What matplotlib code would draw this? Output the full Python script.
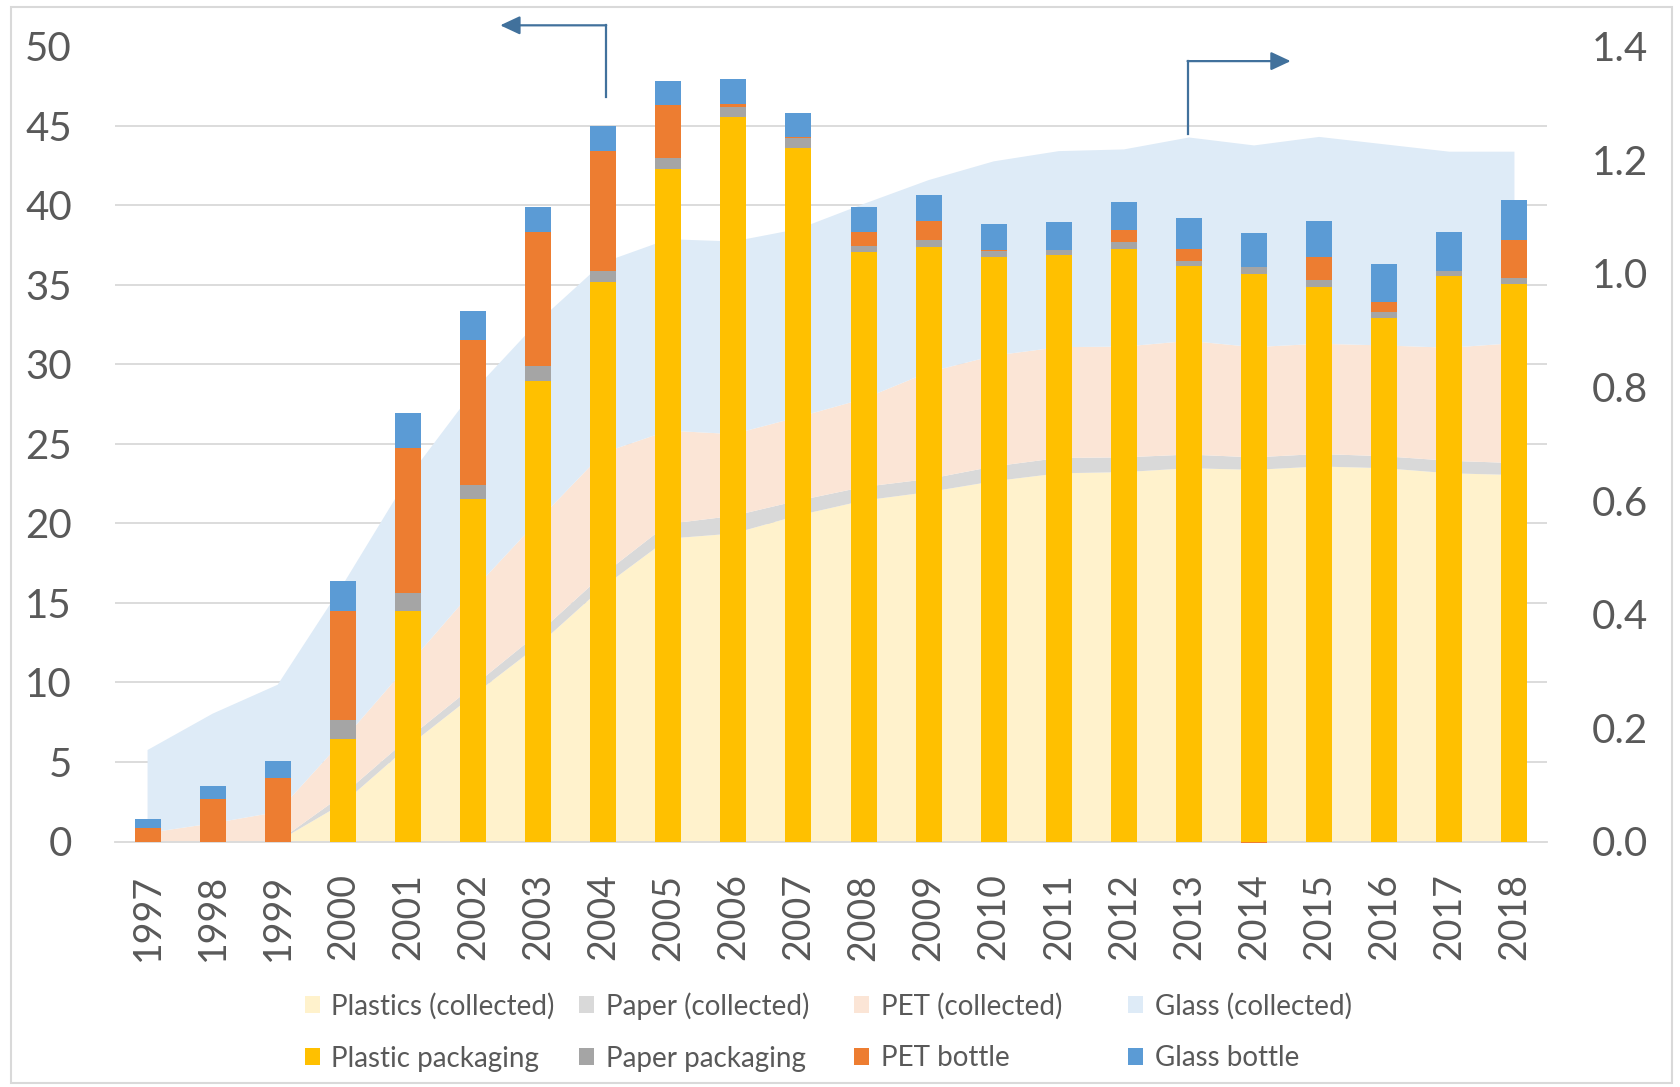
import numpy as np
import matplotlib
matplotlib.use("Agg")
import matplotlib.pyplot as plt
from matplotlib.patches import Rectangle

plt.rcParams["font.family"] = ["Lato", "DejaVu Sans"]

# ---------------------------------------------------------------- data
years = [str(y) for y in range(1997, 2019)]

# packaging (left axis), stacked bars
plastic_pkg = [0, 0, 0, 6.43, 14.47, 21.5, 28.97, 35.14, 42.26, 45.56, 43.61,
               37.07, 37.38, 36.71, 36.84, 37.26, 36.17, 35.69, 34.87, 32.88, 35.54, 35.06]
paper_pkg = [0, 0, 0, 1.2, 1.15, 0.88, 0.94, 0.74, 0.73, 0.61, 0.6,
             0.37, 0.42, 0.42, 0.35, 0.42, 0.33, 0.39, 0.42, 0.4, 0.34, 0.36]
pet_bottle = [0.87, 2.65, 4.0, 6.84, 9.12, 9.14, 8.43, 7.53, 3.31, 0.17, 0.04,
              0.84, 1.17, 0.06, 0.0, 0.75, 0.76, -0.1, 1.42, 0.61, 0.0, 2.38]
glass_bottle = [0.52, 0.85, 1.03, 1.9, 2.18, 1.84, 1.51, 1.57, 1.5, 1.59, 1.57,
                1.63, 1.65, 1.64, 1.72, 1.76, 1.92, 2.14, 2.28, 2.41, 2.42, 2.53]

# collected amounts (right axis), stacked areas
plastics_col = [0, 0, 0, 0.067, 0.167, 0.257, 0.345, 0.448, 0.533, 0.542, 0.574,
                0.600, 0.615, 0.634, 0.648, 0.650, 0.657, 0.654, 0.660, 0.657, 0.648, 0.645]
paper_col = [0, 0, 0, 0.015, 0.014, 0.016, 0.021, 0.022, 0.026, 0.031, 0.026,
             0.024, 0.023, 0.026, 0.027, 0.026, 0.024, 0.022, 0.022, 0.021, 0.022, 0.021]
pet_col = [0.015, 0.032, 0.052, 0.096, 0.129, 0.169, 0.199, 0.214, 0.164, 0.144, 0.147,
           0.155, 0.188, 0.195, 0.195, 0.195, 0.200, 0.194, 0.194, 0.195, 0.199, 0.211]
glass_col = [0.146, 0.193, 0.224, 0.274, 0.330, 0.350, 0.350, 0.335, 0.337, 0.339, 0.331,
             0.343, 0.338, 0.342, 0.345, 0.347, 0.358, 0.355, 0.364, 0.354, 0.345, 0.337]

left_ticks = list(range(0, 51, 5))
right_ticks = [0.0, 0.2, 0.4, 0.6, 0.8, 1.0, 1.2, 1.4]

names_col = ["Plastics (collected)", "Paper (collected)", "PET (collected)", "Glass (collected)"]
names_pkg = ["Plastic packaging", "Paper packaging", "PET bottle", "Glass bottle"]

# ---------------------------------------------------------------- style
col_colors = ["#FFF2CC", "#D9D9D9", "#FBE5D6", "#DEEBF7"]
pkg_colors = ["#FFC000", "#A5A5A5", "#ED7D31", "#5B9BD5"]
text_color = "#595959"
grid_color = "#D9D9D9"
arrow_color = "#41719C"

W, H = 1681, 1087
fig = plt.figure(figsize=(W / 100, H / 100), dpi=100)
fig.patch.set_facecolor("white")

ax = fig.add_axes([115 / W, 1 - 841.5 / H, (1547 - 115) / W, (841.5 - 46) / H])
ax2 = ax.twinx()
# bars above the areas; the areas cover the gridlines
ax.set_zorder(ax2.get_zorder() + 1)
ax.patch.set_visible(False)

x = np.arange(len(years))

# ---- collected amounts (right axis)
ax2.stackplot(x, plastics_col, paper_col, pet_col, glass_col,
              colors=col_colors, linewidth=0, zorder=2)
ax2.set_ylim(0, 1.4)
ax2.set_yticks(right_ticks)
ax2.set_yticklabels([f"{v:.1f}" for v in right_ticks])
# horizontal gridlines at the left-axis tick positions
ax2.set_yticks(np.linspace(0, 1.4, len(left_ticks)), minor=True)
ax2.grid(which="minor", axis="y", color=grid_color, linewidth=1.3, zorder=0)
ax2.set_axisbelow(True)
ax2.tick_params(axis="y", which="both", length=0, pad=32,
                labelsize=29, labelcolor=text_color)

# ---- packaging (left axis)
p = np.array(plastic_pkg)
pa = np.array(paper_pkg)
pe = np.array(pet_bottle)
g = np.array(glass_bottle)
w = 0.4
ax.bar(x, p, w, color=pkg_colors[0], zorder=3)
ax.bar(x, pa, w, bottom=p, color=pkg_colors[1], zorder=3)
pet_bottom = np.where(pe >= 0, p + pa, 0)
ax.bar(x, pe, w, bottom=pet_bottom, color=pkg_colors[2], zorder=3, clip_on=False)
ax.bar(x, g, w, bottom=p + pa + np.clip(pe, 0, None), color=pkg_colors[3], zorder=3)

ax.set_xlim(-0.5, len(years) - 0.5)
ax.set_ylim(0, 50)
ax.set_yticks(left_ticks)
ax.set_xticks(x)
ax.set_xticklabels(years, rotation=90, ha="center", va="top")
ax.tick_params(axis="y", length=0, pad=31, labelsize=29, labelcolor=text_color)
ax.tick_params(axis="x", length=0, pad=23, labelsize=27, labelcolor=text_color)

for a in (ax, ax2):
    for s in ("top", "left", "right"):
        a.spines[s].set_visible(False)
ax2.spines["bottom"].set_visible(False)
ax.spines["bottom"].set_color(grid_color)
ax.spines["bottom"].set_linewidth(1.3)

# ---- axis arrows
def axis_arrow(x0, y0, y1, x1):
    ax.plot([x0, x0], [y0, y1], transform=ax.transAxes, clip_on=False,
            color=arrow_color, lw=1.6, solid_capstyle="projecting", zorder=5)
    ax.annotate("", xy=(x1, y1), xytext=(x0, y1), xycoords="axes fraction",
                textcoords="axes fraction", annotation_clip=False,
                arrowprops=dict(arrowstyle="-|>,head_length=0.6,head_width=0.28",
                                mutation_scale=20, color=arrow_color, lw=1.6,
                                shrinkA=0, shrinkB=0), zorder=5)

axis_arrow(0.343, 0.936, 1.026, 0.269)
axis_arrow(0.749, 0.889, 0.981, 0.821)

# ---- legend
marker_left = [304.5, 579, 854.5, 1128]
row_center = [1004, 1056]
for row, (names, colors) in enumerate([(names_col, col_colors), (names_pkg, pkg_colors)]):
    yc = row_center[row]
    for i, (name, c) in enumerate(zip(names, colors)):
        xl = marker_left[i]
        fig.add_artist(Rectangle((xl / W, 1 - (yc + 8.5) / H), 15 / W, 17 / H,
                                 transform=fig.transFigure, facecolor=c,
                                 edgecolor="none"))
        fig.text((xl + 27) / W, 1 - yc / H, name, ha="left", va="center_baseline",
                 fontsize=20, color=text_color)

# ---- chart frame
fig.add_artist(Rectangle((11 / W, 1 - 1083 / H), (1672 - 11) / W, (1083 - 7) / H,
                         transform=fig.transFigure, fill=False,
                         edgecolor=grid_color, linewidth=1.5))

fig.savefig("out.png", dpi=100, facecolor="white")
